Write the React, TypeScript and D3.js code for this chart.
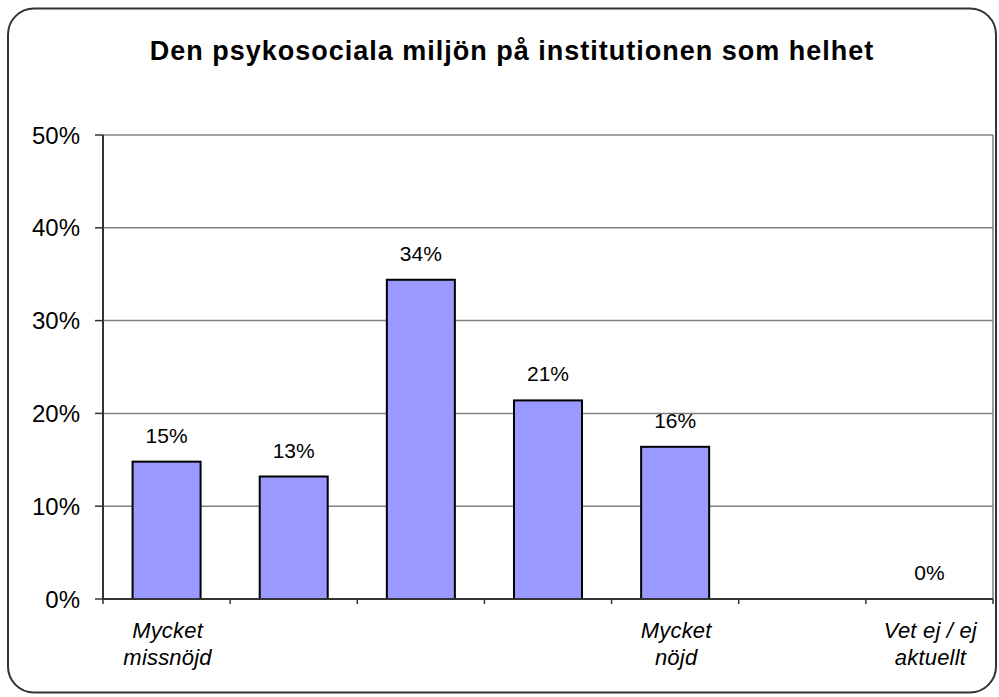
import React from "react";
import * as d3 from "d3";

const title = "Den psykosociala miljön på institutionen som helhet";
const categories = ["c1", "c2", "c3", "c4", "c5", "c6", "c7"];
const categoryLabels: string[][] = [
  ["Mycket", "missnöjd"],
  [],
  [],
  [],
  ["Mycket", "nöjd"],
  [],
  ["Vet ej / ej", "aktuellt"],
];
const values: (number | null)[] = [0.148, 0.132, 0.344, 0.214, 0.164, null, 0];
const yTicks = [0, 0.1, 0.2, 0.3, 0.4, 0.5];

const FONT = "'Liberation Sans', Arial, Helvetica, sans-serif";

export default function App() {
  const W = 999;
  const H = 697;
  const left = 103;
  const right = 993;
  const top = 135;
  const bottom = 599;

  const x = d3.scaleBand<string>().domain(categories).range([left, right]).padding(0);
  const y = d3.scaleLinear().domain([0, 0.5]).range([bottom, top]);
  const fmt = d3.format(".0%");
  const barW = x.bandwidth() * 0.535;
  const boundaries = d3.range(categories.length + 1).map((i) => left + i * x.step());

  return (
    <svg
      width={W}
      height={H}
      style={{ position: "absolute", left: 0, top: 0, background: "#fff" }}
      fontFamily={FONT}
    >
      <rect x={8} y={8.5} width={988} height={684} rx={26} ry={26} fill="#fff" stroke="#333" strokeWidth={2} />

      <text
        x={512}
        y={60}
        textAnchor="middle"
        fontSize={27}
        fontWeight="bold"
        letterSpacing={1}
        fill="#000"
      >
        {title}
      </text>

      {/* gridlines */}
      {yTicks.slice(1).map((t) => (
        <line key={"g" + t} x1={left} x2={right} y1={y(t)} y2={y(t)} stroke="#808080" strokeWidth={1.5} />
      ))}
      <line x1={right} x2={right} y1={top} y2={bottom} stroke="#808080" strokeWidth={1.5} />

      {/* bars */}
      {categories.map((c, i) => {
        const v = values[i];
        if (v === null || v <= 0) return null;
        const cx = (x(c) as number) + x.bandwidth() / 2;
        return (
          <rect
            key={"b" + c}
            x={cx - barW / 2}
            y={y(v)}
            width={barW}
            height={bottom - y(v)}
            fill="#9999FF"
            stroke="#000"
            strokeWidth={2}
          />
        );
      })}

      {/* data labels */}
      {categories.map((c, i) => {
        const v = values[i];
        if (v === null) return null;
        const cx = (x(c) as number) + x.bandwidth() / 2;
        return (
          <text key={"l" + c} x={cx} y={y(v) - 19} textAnchor="middle" fontSize={21} fill="#000">
            {fmt(v)}
          </text>
        );
      })}

      {/* y axis */}
      <line x1={left} x2={left} y1={top} y2={bottom} stroke="#333" strokeWidth={2} />
      {yTicks.map((t) => (
        <g key={"y" + t}>
          <line x1={95} x2={left} y1={y(t)} y2={y(t)} stroke="#333" strokeWidth={1.5} />
          <text x={80} y={y(t) + 8.5} textAnchor="end" fontSize={24} fill="#000">
            {fmt(t)}
          </text>
        </g>
      ))}

      {/* x axis */}
      <line x1={left} x2={right} y1={bottom} y2={bottom} stroke="#333" strokeWidth={2} />
      {boundaries.map((bx, i) => (
        <line key={"t" + i} x1={bx} x2={bx} y1={bottom} y2={bottom + 5} stroke="#333" strokeWidth={1.5} />
      ))}
      {categories.map((c, i) => {
        const cx = (x(c) as number) + x.bandwidth() / 2;
        return categoryLabels[i].map((line, j) => (
          <text
            key={"c" + c + j}
            x={cx + 1}
            y={638 + j * 27}
            textAnchor="middle"
            fontSize={22}
            fontStyle="italic"
            letterSpacing={0.2}
            fill="#000"
          >
            {line}
          </text>
        ));
      })}
    </svg>
  );
}
